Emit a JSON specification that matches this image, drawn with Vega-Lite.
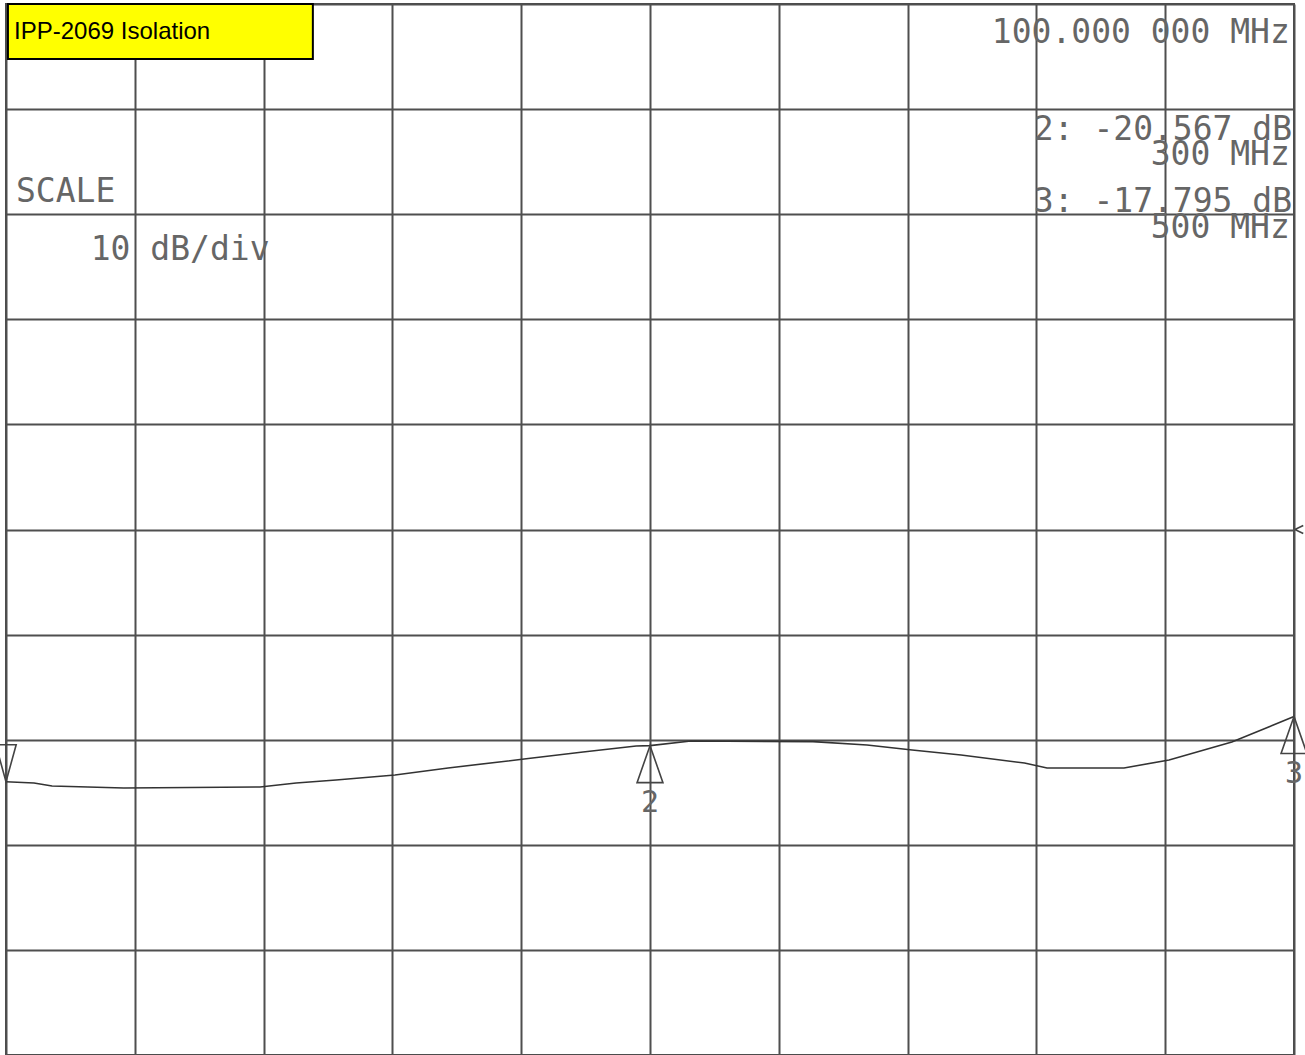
{
  "$schema": "https://vega.github.io/schema/vega-lite/v6.json",
  "width": 1288,
  "height": 1051,
  "autosize": {"type": "none"},
  "padding": {"left": 6, "top": 4, "right": 11, "bottom": 0},
  "background": "white",
  "config": {
    "view": {"stroke": "#4a4a4a", "strokeWidth": 2},
    "axis": {"minExtent": 0, "maxExtent": 0, "labels": false, "ticks": false, "domain": false, "title": null, "grid": true, "gridColor": "#4f4f4f", "gridWidth": 2, "gridOpacity": 1}
  },
  "datasets": {
    "trace": [
      {"f": 100, "db": -24.0},
      {"f": 108.7, "db": -24.12},
      {"f": 114.3, "db": -24.41},
      {"f": 136.6, "db": -24.6},
      {"f": 178.9, "db": -24.5},
      {"f": 190.1, "db": -24.12},
      {"f": 202.5, "db": -23.83},
      {"f": 220.8, "db": -23.36},
      {"f": 237.3, "db": -22.69},
      {"f": 260.9, "db": -21.84},
      {"f": 279.2, "db": -21.17},
      {"f": 295.7, "db": -20.6},
      {"f": 300, "db": -20.567},
      {"f": 312.7, "db": -20.13},
      {"f": 350.6, "db": -20.18},
      {"f": 367.4, "db": -20.51},
      {"f": 381.4, "db": -20.98},
      {"f": 396.6, "db": -21.46},
      {"f": 416.3, "db": -22.22},
      {"f": 423.3, "db": -22.69},
      {"f": 447.2, "db": -22.69},
      {"f": 461.2, "db": -21.93},
      {"f": 480.7, "db": -20.22},
      {"f": 500, "db": -17.795}
    ],
    "markers": [
      {"f": 100, "db": -24.0, "id": "1", "dir": "down"},
      {"f": 300, "db": -20.567, "id": "2", "dir": "up"},
      {"f": 500, "db": -17.795, "id": "3", "dir": "up"},
      {"f": 500, "db": 0, "id": "ref", "dir": "ref"}
    ],
    "readout": [
      {"f": 498.7, "db": 46.26, "text": "100.000 000 MHz"},
      {"f": 499.4, "db": 37.06, "text": "2: -20.567 dB"},
      {"f": 498.7, "db": 34.68, "text": "300 MHz"},
      {"f": 499.4, "db": 30.24, "text": "3: -17.795 dB"},
      {"f": 498.7, "db": 27.74, "text": "500 MHz"}
    ],
    "scale": [
      {"f": 103.1, "db": 31.16, "text": "SCALE"},
      {"f": 126.3, "db": 25.64, "text": "10 dB/div"}
    ],
    "titlebox": [
      {"f": 100.6, "f2": 195.3, "db": 50, "db2": 44.77, "text": "IPP-2069 Isolation", "tf": 102.5, "tdb": 46.64}
    ]
  },
  "layer": [
    {
      "data": {"name": "trace"},
      "mark": {"type": "line", "color": "#333333", "strokeWidth": 1.6},
      "encoding": {
        "x": {"field": "f", "type": "quantitative", "scale": {"domain": [100, 500], "nice": false, "zero": false}, "axis": {"values": [100, 140, 180, 220, 260, 300, 340, 380, 420, 460, 500]}},
        "y": {"field": "db", "type": "quantitative", "scale": {"domain": [-50, 50], "nice": false, "zero": false}, "axis": {"values": [-50, -40, -30, -20, -10, 0, 10, 20, 30, 40, 50]}}
      }
    },
    {
      "data": {"name": "markers"},
      "mark": {"type": "point", "filled": false, "stroke": "#444444", "strokeWidth": 1.6, "opacity": 1},
      "encoding": {
        "x": {"field": "f", "type": "quantitative"},
        "y": {"field": "db", "type": "quantitative"},
        "shape": {"field": "dir", "type": "nominal", "legend": null, "scale": {"domain": ["up", "down", "ref"], "range": ["M0,0L-0.7,2L0.7,2Z", "M0,0L-0.55,-2L0.55,-2Z", "M0.05,0L0.5,-0.22M0.05,0L0.5,0.22"]}},
        "size": {"field": "dir", "type": "nominal", "legend": null, "scale": {"domain": ["up", "down", "ref"], "range": [1369, 1369, 1369]}}
      }
    },
    {
      "data": {"name": "markers"},
      "transform": [{"filter": "datum.id == '2' || datum.id == '3'"}],
      "mark": {"type": "text", "font": "DejaVu Sans Mono", "fontSize": 30, "color": "#666666", "baseline": "top", "align": "center", "dy": 42},
      "encoding": {
        "x": {"field": "f", "type": "quantitative"},
        "y": {"field": "db", "type": "quantitative"},
        "text": {"field": "id"}
      }
    },
    {
      "data": {"name": "readout"},
      "mark": {"type": "text", "font": "DejaVu Sans Mono", "fontSize": 33, "color": "#666666", "baseline": "alphabetic", "align": "right"},
      "encoding": {
        "x": {"field": "f", "type": "quantitative"},
        "y": {"field": "db", "type": "quantitative"},
        "text": {"field": "text"}
      }
    },
    {
      "data": {"name": "scale"},
      "mark": {"type": "text", "font": "DejaVu Sans Mono", "fontSize": 33, "color": "#666666", "baseline": "alphabetic", "align": "left"},
      "encoding": {
        "x": {"field": "f", "type": "quantitative"},
        "y": {"field": "db", "type": "quantitative"},
        "text": {"field": "text"}
      }
    },
    {
      "data": {"name": "titlebox"},
      "mark": {"type": "rect", "fill": "#ffff00", "stroke": "#000000", "strokeWidth": 2},
      "encoding": {
        "x": {"field": "f", "type": "quantitative"},
        "x2": {"field": "f2"},
        "y": {"field": "db", "type": "quantitative"},
        "y2": {"field": "db2"}
      }
    },
    {
      "data": {"name": "titlebox"},
      "mark": {"type": "text", "font": "Liberation Sans", "fontSize": 24, "color": "#000000", "baseline": "alphabetic", "align": "left"},
      "encoding": {
        "x": {"field": "tf", "type": "quantitative"},
        "y": {"field": "tdb", "type": "quantitative"},
        "text": {"field": "text"}
      }
    }
  ]
}
